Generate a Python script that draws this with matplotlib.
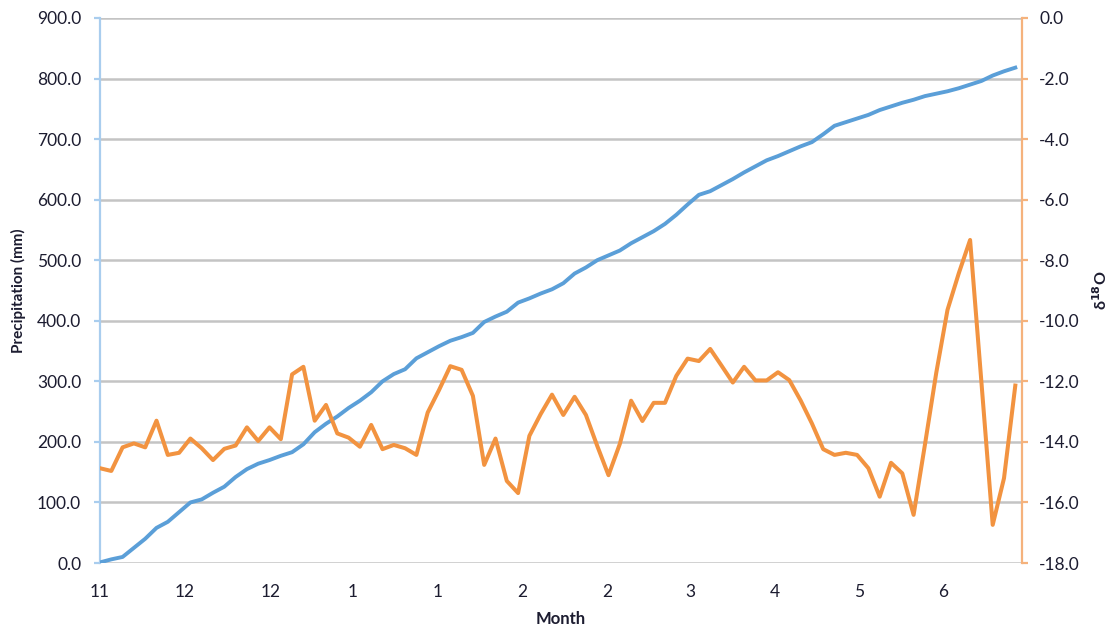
import matplotlib
matplotlib.use("Agg")
import matplotlib.pyplot as plt
import numpy as np
from matplotlib.ticker import FuncFormatter, MultipleLocator

plt.rcParams['font.family'] = ['Lato', 'DejaVu Sans']
plt.rcParams['axes.unicode_minus'] = False

# ---- data ----
month_labels = ["11", "12", "12", "1", "1", "2", "2", "3", "4", "5", "6"]
month_tick_pos = [0, 7.52, 15.13, 22.39, 29.91, 37.35, 44.87, 52.21, 59.73, 67.17, 74.60]

precip_cum = [1, 6, 10, 25, 40, 58, 68, 84, 100, 105,
              116, 126, 142, 155, 164, 170, 177, 183, 196, 216,
              230, 242, 256, 268, 282, 300, 312, 320, 338, 348,
              358, 367, 373, 380, 398, 407, 415, 430, 437, 445,
              452, 462, 478, 488, 500, 508, 516, 528, 538, 548,
              560, 575, 592, 608, 614, 624, 634, 645, 655, 665,
              672, 680, 688, 695, 708, 722, 728, 734, 740, 748,
              754, 760, 765, 771, 775, 779, 784, 790, 796, 805,
              812, 818]

d18o = [-14.87, -14.96, -14.18, -14.05, -14.18, -13.30, -14.43, -14.36, -13.89, -14.21,
        -14.60, -14.23, -14.12, -13.52, -13.97, -13.52, -13.91, -11.77, -11.52, -13.30,
        -12.78, -13.72, -13.86, -14.16, -13.44, -14.24, -14.10, -14.21, -14.43, -13.03,
        -12.29, -11.50, -11.62, -12.48, -14.76, -13.89, -15.29, -15.69, -13.80, -13.08,
        -12.44, -13.11, -12.51, -13.11, -14.13, -15.10, -14.07, -12.64, -13.31, -12.71,
        -12.71, -11.82, -11.25, -11.33, -10.93, -11.48, -12.04, -11.52, -11.97, -11.97,
        -11.70, -11.96, -12.63, -13.39, -14.24, -14.43, -14.36, -14.43, -14.87, -15.81,
        -14.69, -15.04, -16.41, -14.10, -11.73, -9.64, -8.43, -7.33, -12.02, -16.74,
        -15.20, -12.14]

x_blue = np.arange(len(precip_cum))
x_orange = np.arange(len(d18o))

BLUE = '#5b9fd8'
ORANGE = '#f29340'
TXT = '#1c1c30'

fig = plt.figure(figsize=(11.16, 6.29), dpi=100)
ax = fig.add_axes([100/1116, 1-563/629, 922/1116, 545/629])
ax2 = ax.twinx()

ax.plot(x_blue, precip_cum, color=BLUE, lw=2.8, solid_joinstyle='round', zorder=3)
ax2.plot(x_orange, d18o, color=ORANGE, lw=2.9, solid_joinstyle='round', zorder=3)

ax.set_xlim(0, 922/11.3)
ax.set_ylim(0, 900)
ax2.set_ylim(-18, 0)
ax.yaxis.set_major_locator(MultipleLocator(100))
ax2.yaxis.set_major_locator(MultipleLocator(2))
fmt = FuncFormatter(lambda v, p: f"{v:.1f}")
ax.yaxis.set_major_formatter(fmt)
ax2.yaxis.set_major_formatter(fmt)

ax.set_xticks(month_tick_pos)
ax.set_xticklabels(month_labels)

ax.grid(axis='y', color='#c4c4c4', lw=1.8)
ax.set_axisbelow(True)

for a in (ax, ax2):
    a.spines['top'].set_visible(False)
    a.spines['bottom'].set_visible(False)
ax.spines['right'].set_visible(False)
ax2.spines['left'].set_visible(False)
ax.spines['left'].set_color('#a9cdee')
ax.spines['left'].set_linewidth(1.6)
ax2.spines['right'].set_color('#f5b27c')
ax2.spines['right'].set_linewidth(1.6)

ax.tick_params(axis='y', colors='#a9cdee', length=4.5, width=1.6, pad=9,
               labelcolor=TXT, labelsize=12.5)
ax2.tick_params(axis='y', colors='#f5b27c', length=4.5, width=1.6, pad=8,
                labelcolor=TXT, labelsize=12.5)
ax.tick_params(axis='x', length=0, pad=15, labelcolor=TXT, labelsize=12.5)

ax.set_xlabel("Month", fontsize=12, fontweight='bold', color=TXT, labelpad=8)
ax.set_ylabel("Precipitation (mm)", fontsize=11, fontweight='bold', color=TXT, labelpad=8)
ax2.set_ylabel("δ$^{\\mathbf{18}}$O", fontsize=11.5, fontweight='bold', color=TXT,
               rotation=90, labelpad=8)

fig.savefig("out.png", dpi=100)
